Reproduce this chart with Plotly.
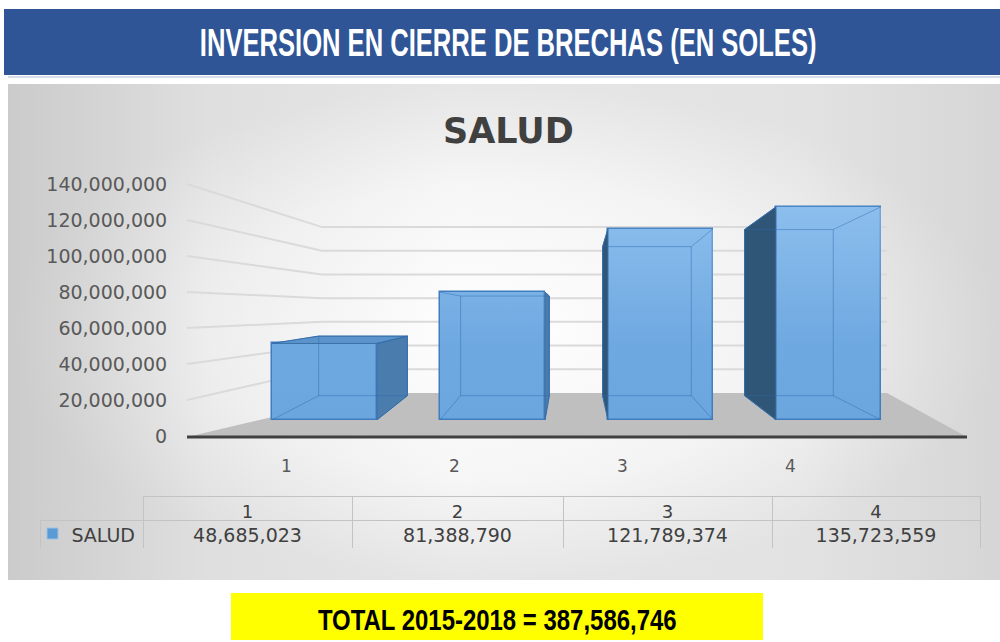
import plotly.graph_objects as go

# ---------------- data ----------------
categories = ["1", "2", "3", "4"]
series_name = "SALUD"
salud = [48685023, 81388790, 121789374, 135723559]
y_tick_vals = [0, 20000000, 40000000, 60000000, 80000000, 100000000, 120000000, 140000000]
banner_title = "INVERSION EN CIERRE DE BRECHAS (EN SOLES)"
chart_title = "SALUD"
total_label = "TOTAL 2015-2018 = {:,}".format(sum(salud))

# ---------------- geometry (pixels of the 1000x642 page) ----------------
W, H = 1000, 642
def px(x):
    return x / W
def py(y):
    return 1 - y / H

BOLD_FONT = "Liberation Sans, Arial, sans-serif"
UI_FONT = "DejaVu Sans, sans-serif"

# front wall value scale: 0 at px 436, 140M at px 184
Y0_PX = 436
PPV = 252 / 140e6
y2_range = [(Y0_PX - H) / PPV, Y0_PX / PPV]

# perspective depth model (values in front-wall units)
V0 = 70e6
T_BAR_FRONT = 0.128
T_BAR_BACK = 0.32
T_WALL = 0.342
def depth(v, t):
    return v * (1 - t) + t * V0

def to_y3(y2val):
    return (y2val - T_BAR_FRONT * V0) / (1 - T_BAR_FRONT)

y3_range = [to_y3(r) for r in y2_range]

# category x scale
X_C0, X_STEP = 324.5, 168
x2_range = [(0 - X_C0) / X_STEP, (W - X_C0) / X_STEP]
XV = (573 - X_C0) / X_STEP
DX = 0.155
BAR_W = 105 / X_STEP

fig = go.Figure()

# ---- chart background (gradients) ----
bg_x = [8, 1000, 1000, 8, 8]
bg_y = [84, 84, 580, 580, 84]
fig.add_trace(go.Scatter(
    x=bg_x, y=bg_y, xaxis="x", yaxis="y", mode="lines", line=dict(width=0),
    fill="toself",
    fillgradient=dict(type="radial",
                      colorscale=[[0, "#FFFFFF"], [0.6, "#F6F6F6"], [1, "#E6E6E6"]]),
    hoverinfo="skip", showlegend=False))
fig.add_trace(go.Scatter(
    x=bg_x, y=bg_y, xaxis="x", yaxis="y", mode="lines", line=dict(width=0),
    fill="toself",
    fillgradient=dict(type="horizontal",
                      colorscale=[[0, "rgba(140,140,140,0.30)"], [0.2, "rgba(140,140,140,0.08)"],
                                  [0.45, "rgba(140,140,140,0)"], [0.8, "rgba(140,140,140,0.04)"],
                                  [1, "rgba(140,140,140,0.18)"]]),
    hoverinfo="skip", showlegend=False))

# ---- floor ----
fig.add_trace(go.Scatter(
    x=[187, 375, 887, 967, 187], y=[437, 393, 393, 437, 437],
    xaxis="x", yaxis="y", mode="lines", line=dict(width=0),
    fill="toself", fillcolor="#BFBFBF",
    hoverinfo="skip", showlegend=False))

# ---- gridlines on side + back wall ----
WALL_FRONT_X, WALL_CORNER_X, WALL_RIGHT_X = 187, 322, 887
gx, gy = [], []
for v in y_tick_vals[1:]:
    gx += [WALL_FRONT_X, WALL_CORNER_X, WALL_RIGHT_X, None]
    gy += [v, depth(v, T_WALL), depth(v, T_WALL), None]
fig.add_trace(go.Scatter(
    x=gx, y=gy, xaxis="x", yaxis="y2", mode="lines",
    line=dict(color="#DADADA", width=2),
    hoverinfo="skip", showlegend=False))

# ---- bars: front faces ----
xs = list(range(len(categories)))
fig.add_trace(go.Bar(
    x=xs, y=salud, xaxis="x2", yaxis="y3", width=BAR_W,
    marker=dict(color="#6BA6DF", line=dict(color="#3F7DC0", width=1.5)),
    name=series_name, showlegend=False))

# light sheen on the upper part of the front faces
hx, hy = [], []
for i, v in enumerate(salud):
    xl, xr = i - BAR_W / 2, i + BAR_W / 2
    hx += [xl, xr, xr, xl, xl, None]
    hy += [0, 0, v, v, 0, None]
fig.add_trace(go.Scatter(
    x=hx, y=hy, xaxis="x2", yaxis="y3", mode="lines", line=dict(width=0),
    fill="toself",
    fillgradient=dict(type="vertical", start=0, stop=max(salud),
                      colorscale=[[0, "rgba(180,220,255,0)"], [0.35, "rgba(180,220,255,0.05)"],
                                  [1, "rgba(180,220,255,0.45)"]]),
    hoverinfo="skip", showlegend=False))

# ---- bars: side / top faces and inner edges ----
wx, wy = [], []
for i, v in enumerate(salud):
    xl, xr = i - BAR_W / 2, i + BAR_W / 2
    xlb, xrb = xl + DX * (XV - xl), xr + DX * (XV - xr)
    yb_b = to_y3(depth(0, T_BAR_BACK))
    yt_b = to_y3(depth(v, T_BAR_BACK))
    wx += [xlb, xrb, xrb, xlb, xlb, None, xl, xlb, None, xr, xrb, None, xl, xlb, None, xr, xrb, None]
    wy += [yb_b, yb_b, yt_b, yt_b, yb_b, None, 0, yb_b, None, 0, yb_b, None, v, yt_b, None, v, yt_b, None]
    if xr < XV:
        sx = [xr, xr, xrb, xrb, xr]
        sc = "#4A7CAE"
    else:
        sx = [xl, xl, xlb, xlb, xl]
        sc = "#2F5677"
    sy = [0, v, yt_b, yb_b, 0]
    fig.add_trace(go.Scatter(
        x=sx, y=sy, xaxis="x2", yaxis="y3", mode="lines",
        line=dict(color="#3A70A8", width=1), fill="toself", fillcolor=sc,
        hoverinfo="skip", showlegend=False))
    if yt_b > v:
        fig.add_trace(go.Scatter(
            x=[xl, xr, xrb, xlb, xl], y=[v, v, yt_b, yt_b, v],
            xaxis="x2", yaxis="y3", mode="lines",
            line=dict(color="#3A70A8", width=1), fill="toself", fillcolor="#5B93CA",
            hoverinfo="skip", showlegend=False))
fig.add_trace(go.Scatter(
    x=wx, y=wy, xaxis="x2", yaxis="y3", mode="lines",
    line=dict(color="rgba(45,105,175,0.45)", width=1),
    hoverinfo="skip", showlegend=False))

# ---- data table ----
fig.add_trace(go.Table(
    domain=dict(x=[px(40), px(980)], y=[py(548), py(496)]),
    columnwidth=[103, 209, 211, 209, 208],
    header=dict(values=[""] + categories, height=24,
                fill=dict(color="rgba(0,0,0,0)"),
                line=dict(color=["rgba(0,0,0,0)"] + ["#C3C3C3"] * 4, width=1),
                align="center",
                font=dict(family=UI_FONT, size=18, color="#404040")),
    cells=dict(values=[[series_name]] + [["{:,}".format(v)] for v in salud],
               height=28,
               fill=dict(color="rgba(0,0,0,0)"),
               line=dict(color="#C3C3C3", width=1),
               align=["right", "center", "center", "center", "center"],
               font=dict(family=UI_FONT, size=19, color="#404040"))))

# ---------------- layout ----------------
shapes = [
    dict(type="rect", xref="paper", yref="paper", x0=px(4), x1=1, y0=py(75), y1=py(9),
         fillcolor="#2F5597", line=dict(width=0), layer="below"),
    dict(type="line", xref="paper", yref="paper", x0=px(8), x1=1, y0=py(77), y1=py(77),
         line=dict(color="#D5DEEA", width=2), layer="below"),
    dict(type="line", xref="paper", yref="paper", x0=px(187), x1=px(967), y0=py(437), y1=py(437),
         line=dict(color="#404040", width=3)),
    dict(type="rect", xref="paper", yref="paper", x0=px(231), x1=px(763), y0=py(640), y1=py(593),
         fillcolor="#FFFF00", line=dict(width=0), layer="below"),
    # legend key of the data table
    dict(type="rect", xref="paper", yref="paper", x0=px(47), x1=px(58), y0=py(539), y1=py(528),
         fillcolor="#5B9BD5", line=dict(color="#9DC3E6", width=1)),
]

annotations = [
    dict(text=banner_title, xref="paper", yref="paper", x=px(508), y=py(43),
         showarrow=False, xanchor="center", yanchor="middle",
         font=dict(family=BOLD_FONT, size=38, color="white", weight="bold")),
    dict(text=chart_title, xref="paper", yref="paper", x=px(508), y=py(131),
         showarrow=False, xanchor="center", yanchor="middle",
         font=dict(family=UI_FONT, size=35, color="#404040", weight="bold")),
    dict(text=total_label, xref="paper", yref="paper", x=px(497), y=py(620),
         showarrow=False, xanchor="center", yanchor="middle",
         font=dict(family=BOLD_FONT, size=29, color="black", weight="bold")),
]

fig.update_layout(
    width=W, height=H, margin=dict(l=0, r=0, t=0, b=0),
    paper_bgcolor="white", plot_bgcolor="rgba(0,0,0,0)",
    showlegend=False, bargap=0,
    shapes=shapes, annotations=annotations,
    xaxis=dict(domain=[0, 1], range=[0, W], visible=False, fixedrange=True),
    yaxis=dict(domain=[0, 1], range=[H, 0], visible=False, fixedrange=True),
    xaxis2=dict(overlaying="x", range=x2_range, anchor="free", position=py(437),
                tickvals=xs, ticktext=categories, ticklabelshift=-38,
                showgrid=False, zeroline=False, showline=False,
                ticks="outside", ticklen=14, tickcolor="rgba(0,0,0,0)",
                tickfont=dict(family=UI_FONT, size=17, color="#595959"),
                fixedrange=True),
    yaxis2=dict(overlaying="y", range=y2_range, anchor="free", position=px(187),
                tickvals=y_tick_vals, tickformat=",d",
                showgrid=False, zeroline=False, showline=False,
                ticks="outside", ticklen=16, tickcolor="rgba(0,0,0,0)",
                tickfont=dict(family=UI_FONT, size=19, color="#595959"),
                fixedrange=True),
    yaxis3=dict(overlaying="y", range=y3_range, visible=False, fixedrange=True),
)

# Page fix-ups: no body margin; condense the bold banner/total texts to the
# widths of the condensed face used in the original.
post_script = """
document.documentElement.style.overflow = 'hidden';
document.body.style.margin = '0';
document.body.style.overflow = 'hidden';
var gd = document.getElementsByClassName('plotly-graph-div')[0];
var targets = {'0': 617, '2': 359};
gd.querySelectorAll('g.annotation').forEach(function (g) {
  var idx = g.getAttribute('data-index');
  if (targets[idx] === undefined) return;
  var t = g.querySelector('text');
  if (!t) return;
  var bb = t.getBBox();
  if (bb.width <= 0) return;
  var s = targets[idx] / bb.width;
  var cx = bb.x + bb.width / 2;
  var old = t.getAttribute('transform') || '';
  t.setAttribute('transform', old + ' translate(' + cx + ',0) scale(' + s + ',1) translate(' + (-cx) + ',0)');
});
"""

fig.write_html("out.html", post_script=post_script, config={"displayModeBar": False})
